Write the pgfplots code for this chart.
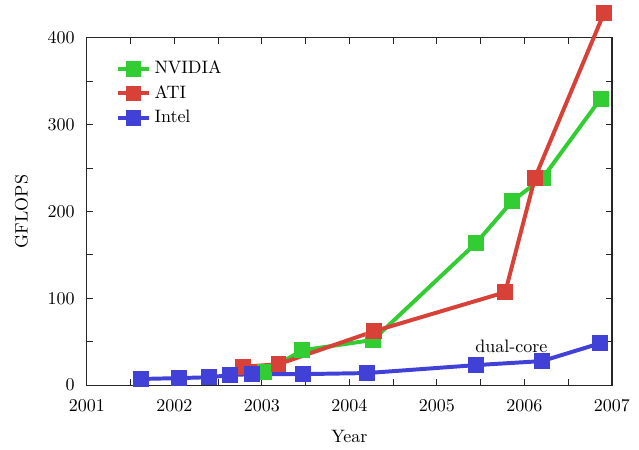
\documentclass[border=0pt]{standalone}
\usepackage{pgfplots}
\pgfplotsset{compat=1.18}
\definecolor{cgreen}{RGB}{50,205,50}
\definecolor{cred}{RGB}{215,65,55}
\definecolor{cblue}{RGB}{65,65,215}
\begin{document}
\begin{tikzpicture}
\begin{axis}[
  scale only axis,
  width=292pt, height=193pt,
  xmin=2001, xmax=2007, ymin=0, ymax=400,
  xtick={2001,2002,...,2007},
  minor xtick={2001.5,2002.5,...,2006.5},
  ytick={0,100,...,400},
  minor ytick={50,150,...,350},
  major tick length=3.5pt, minor tick length=3.5pt,
  tick align=inside,
  xtick pos=both, ytick pos=both,
  /pgf/number format/1000 sep={},
  axis line style={black!85, line width=0.6pt},
  every tick/.style={black!85, line width=0.6pt},
  every minor tick/.style={black!85, line width=0.6pt},
  xticklabel style={yshift=-5pt},
  yticklabel style={xshift=-3.3pt},
  xlabel={Year}, ylabel={GFLOPS},
  xlabel style={yshift=-3.5pt},
  ylabel style={yshift=4pt},
  clip=false,
  legend style={at={(0.045,0.955)}, anchor=north west, draw=none, fill=none, row sep=1pt},
  legend cell align=left,
  every axis plot/.append style={line width=2.2pt, mark=square*, mark size=3.3pt, mark options={solid}},
]
\addplot[color=cgreen] coordinates {
 (2003.03,15) (2003.46,40) (2004.27,52) (2005.45,164) (2005.86,212) (2006.21,239) (2006.87,330)};
\addlegendentry{NVIDIA}
\addplot[color=cred] coordinates {
 (2002.78,21) (2003.19,24) (2004.28,62) (2005.78,107) (2006.12,239) (2006.91,429)};
\addlegendentry{ATI}
\addplot[color=cblue] coordinates {
 (2001.62,7) (2002.05,8) (2002.4,9) (2002.64,11.5) (2002.89,12.6) (2003.47,12.6) (2004.2,13.8) (2005.45,23) (2006.2,27.6) (2006.86,48)};
\addlegendentry{Intel}
\node at (axis cs:2005.85,45) {dual-core};
\end{axis}
\path (current axis.south west) ++(-48.3pt,-36.1pt) coordinate (bl);
\path (current axis.north east) ++(15pt,21.1pt) coordinate (tr);
\useasboundingbox (bl) rectangle (tr);
\end{tikzpicture}
\end{document}
